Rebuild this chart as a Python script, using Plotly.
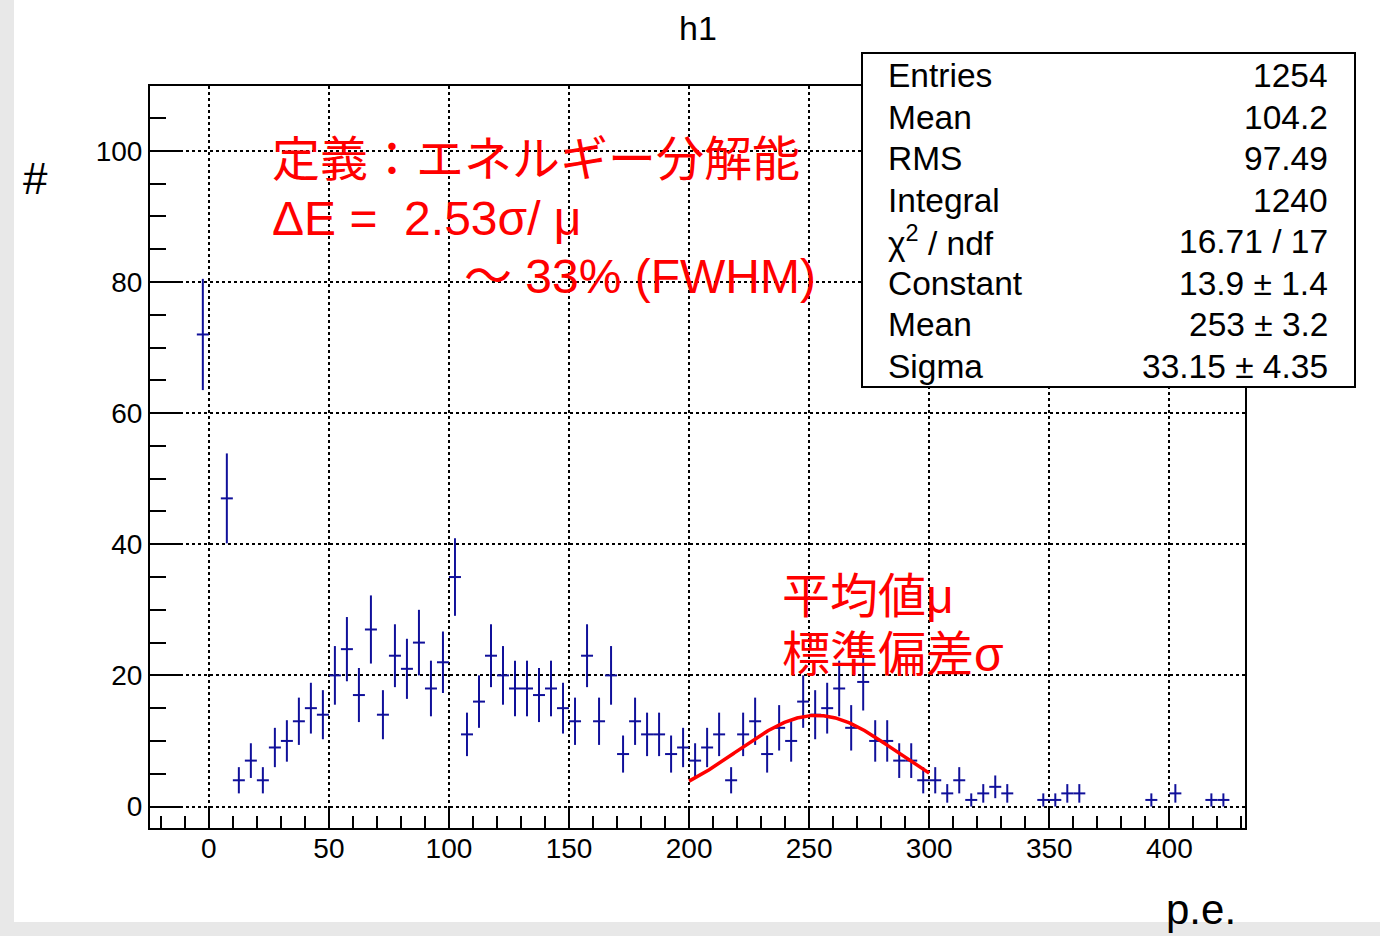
import numpy as np
import plotly.graph_objects as go

# ---------------- data ----------------
bin_centers = [-2.5, 7.5, 12.5, 17.5, 22.5, 27.5, 32.5, 37.5, 42.5, 47.5,
               52.5, 57.5, 62.5, 67.5, 72.5, 77.5, 82.5, 87.5, 92.5, 97.5,
               102.5, 107.5, 112.5, 117.5, 122.5, 127.5, 132.5, 137.5, 142.5, 147.5,
               152.5, 157.5, 162.5, 167.5, 172.5, 177.5, 182.5, 187.5, 192.5, 197.5,
               202.5, 207.5, 212.5, 217.5, 222.5, 227.5, 232.5, 237.5, 242.5, 247.5,
               252.5, 257.5, 262.5, 267.5, 272.5, 277.5, 282.5, 287.5, 292.5, 297.5,
               302.5, 307.5, 312.5, 317.5, 322.5, 327.5, 332.5,
               347.5, 352.5, 357.5, 362.5,
               392.5, 402.5, 417.5, 422.5]
counts = [72, 47, 4, 7, 4, 9, 10, 13, 15, 14,
          20, 24, 17, 27, 14, 23, 21, 25, 18, 22,
          35, 11, 16, 23, 20, 18, 18, 17, 18, 15,
          13, 23, 13, 20, 8, 13, 11, 11, 8, 9,
          7, 9, 11, 4, 11, 13, 8, 12, 10, 16,
          14, 15, 18, 12, 19, 10, 10, 7, 7, 4,
          4, 2, 4, 1, 2, 3, 2,
          1, 1, 2, 2,
          1, 2, 1, 1]
bin_half_width = 2.5

# Gaussian fit parameters (from the stats box) and fit range
fit_const = 13.9
fit_mean = 253.0
fit_sigma = 33.15
fit_xmin, fit_xmax = 200.0, 300.0

x_ticks = [0, 50, 100, 150, 200, 250, 300, 350, 400]
y_ticks = [0, 20, 40, 60, 80, 100]

stats_labels = ["Entries", "Mean", "RMS", "Integral", "χ<sup>2</sup> / ndf",
                "Constant", "Mean", "Sigma"]
stats_values = ["1254", "104.2", "97.49", "1240", "16.71 / 17",
                "13.9 ± 1.4", "253 ± 3.2", "33.15 ± 4.35"]

# ---------------- derived ----------------
errors = np.sqrt(np.array(counts, dtype=float))
fx = np.linspace(fit_xmin, fit_xmax, 201)
fy = fit_const * np.exp(-0.5 * ((fx - fit_mean) / fit_sigma) ** 2)

W, H = 1380, 936
L, R, T, B = 150, 135, 86, 108
PW, PH = W - L - R, H - T - B


def px(xp):
    return (xp - L) / PW


def py(yp):
    return (H - B - yp) / PH


FONT = "Liberation Sans, Noto Sans CJK JP, sans-serif"
BLUE = "#10109a"
RED = "#ff0000"

fig = go.Figure()
fig.add_trace(go.Scatter(
    x=bin_centers, y=counts, mode="markers",
    marker=dict(size=1, color=BLUE),
    error_x=dict(type="constant", value=bin_half_width, width=0, thickness=2, color=BLUE),
    error_y=dict(type="data", array=errors, width=0, thickness=2, color=BLUE),
    showlegend=False, hoverinfo="skip"))
fig.add_trace(go.Scatter(
    x=fx, y=fy, mode="lines", line=dict(color=RED, width=3.5),
    showlegend=False, hoverinfo="skip"))

axis_common = dict(
    ticks="inside", tickwidth=2, tickcolor="black",
    showline=True, linewidth=2, linecolor="black", mirror=True,
    showgrid=True, gridcolor="black", griddash="dot", gridwidth=1.5,
    zeroline=False, tickfont=dict(family=FONT, size=28, color="black"),
)

fig.update_layout(
    width=W, height=H,
    margin=dict(l=L, r=R, t=T, b=B),
    paper_bgcolor="#e8e8e8", plot_bgcolor="white",
    xaxis=dict(range=[-24.5, 431.5], tickvals=x_ticks, ticklen=22,
               ticklabelstandoff=-6,
               minor=dict(dtick=10, tick0=0, ticks="inside", ticklen=12,
                          tickwidth=1.5, tickcolor="black", showgrid=False),
               **axis_common),
    yaxis=dict(range=[-3.28, 109.9], tickvals=y_ticks, ticklen=31,
               ticklabelstandoff=0,
               minor=dict(dtick=5, tick0=0, ticks="inside", ticklen=16,
                          tickwidth=1.5, tickcolor="black", showgrid=False),
               **axis_common),
    shapes=[
        # white canvas (grey border strips left and bottom)
        dict(type="rect", xref="paper", yref="paper", layer="below",
             x0=px(14), x1=px(W + 5), y0=py(922), y1=py(-5),
             fillcolor="white", line=dict(width=0)),
        # stats box
        dict(type="rect", xref="paper", yref="paper", layer="above",
             x0=px(862), x1=px(1355), y0=py(387), y1=py(53),
             fillcolor="white", line=dict(color="black", width=2)),
    ],
)

ann = []
# title
ann.append(dict(text="h1", x=px(698), y=py(28), xref="paper", yref="paper",
                showarrow=False, xanchor="center", yanchor="middle",
                font=dict(family=FONT, size=34, color="black")))
# axis titles
ann.append(dict(text="#", x=px(35), y=py(178), xref="paper", yref="paper",
                showarrow=False, xanchor="center", yanchor="middle",
                font=dict(family=FONT, size=44, color="black")))
ann.append(dict(text="p.e.", x=px(1164), y=py(909), xref="paper", yref="paper",
                showarrow=False, xanchor="left", yanchor="middle",
                font=dict(family=FONT, size=42, color="black")))

# stats box text
row0, step = 75.5, 41.5
for i, (lab, val) in enumerate(zip(stats_labels, stats_values)):
    yy = py(row0 + i * step)
    ann.append(dict(text=lab, x=px(886), y=yy, xref="paper", yref="paper",
                    showarrow=False, xanchor="left", yanchor="middle",
                    font=dict(family=FONT, size=33.5, color="black")))
    ann.append(dict(text=val, x=px(1330), y=yy, xref="paper", yref="paper",
                    showarrow=False, xanchor="right", yanchor="middle",
                    font=dict(family=FONT, size=33.5, color="black")))

# red comment texts
red_lines = [
    ("定義：エネルギー分解能", 270, 160),
    ("ΔE =\u00a0\u00a02.53σ/ μ", 270, 218),
    ("～ 33% (FWHM)", 462, 276),
    ("平均値μ", 780, 596),
    ("標準偏差σ", 780, 654),
]
for txt, xx, yy in red_lines:
    ann.append(dict(text=txt, x=px(xx), y=py(yy), xref="paper", yref="paper",
                    showarrow=False, xanchor="left", yanchor="middle",
                    font=dict(family=FONT, size=48, color=RED)))

fig.update_layout(annotations=ann)
fig.write_html("out.html")
